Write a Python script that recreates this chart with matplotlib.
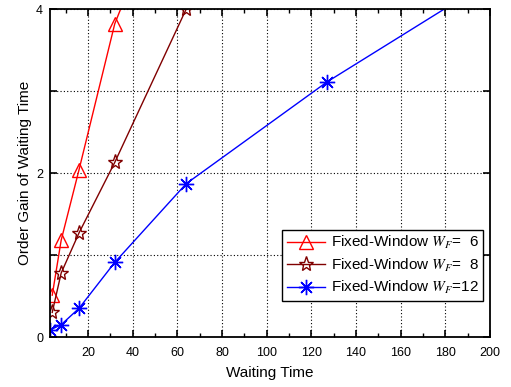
import matplotlib
matplotlib.use("Agg")
import matplotlib.pyplot as plt
from matplotlib.ticker import MultipleLocator, FixedLocator

plt.rcParams['font.family'] = ['Liberation Sans', 'DejaVu Sans']
plt.rcParams['mathtext.fontset'] = 'stix'

# Data
x_w6 = [4, 8, 16, 32, 64]
y_w6 = [0.51, 1.18, 2.04, 3.82, 6.0]
x_w8 = [4, 8, 16, 32, 64, 128]
y_w8 = [0.30, 0.78, 1.27, 2.13, 4.0, 7.5]
x_w12 = [3, 8, 16, 32, 64, 127, 254]
y_w12 = [0.085, 0.15, 0.35, 0.91, 1.87, 3.11, 5.26]

labels = [r"Fixed-Window $W_{F}$=  6", r"Fixed-Window $W_{F}$=  8", r"Fixed-Window $W_{F}$=12"]
x_ticks = [20, 40, 60, 80, 100, 120, 140, 160, 180, 200]
y_ticks = [0, 1, 2, 3, 4]
y_ticklabels = ["0", "", "2", "", "4"]

fig = plt.figure(figsize=(5.11, 3.87), dpi=100)
ax = fig.add_axes([50/511, 1-337/387, 440/511, 328/387])

ax.plot(x_w6, y_w6, color='#ff0000', lw=1.0, marker='^', ms=10, mfc='none', mec='#ff0000', mew=1.0, label=labels[0])
ax.plot(x_w8, y_w8, color='#800000', lw=1.0, marker='*', ms=11, mfc='none', mec='#800000', mew=1.0, label=labels[1])
ax.plot(x_w12, y_w12, color='#0000ff', lw=1.0, marker=(8, 2, 0), ms=11, mfc='none', mec='#0000ff', mew=1.0, label=labels[2])

ax.set_xlim(3, 200)
ax.set_ylim(0, 4)
ax.xaxis.set_major_locator(FixedLocator(x_ticks))
ax.xaxis.set_minor_locator(MultipleLocator(10))
ax.yaxis.set_major_locator(FixedLocator(y_ticks))
ax.set_yticklabels(y_ticklabels)

ax.tick_params(which='both', direction='in', top=True, right=True, labelsize=9)
ax.tick_params(which='major', length=5, width=1.2)
ax.tick_params(which='minor', length=3, width=1.0)
ax.tick_params(axis='x', which='major', pad=7)
ax.tick_params(axis='y', which='major', pad=5)
for s in ax.spines.values():
    s.set_linewidth(1.3)

ax.grid(True, which='major', color='black', linestyle=(0, (1, 2)), linewidth=0.8)

ax.set_xlabel("Waiting Time", fontsize=11, labelpad=5)
ax.set_ylabel("Order Gain of Waiting Time", fontsize=11, labelpad=3)

leg = ax.legend(loc='lower right', bbox_to_anchor=(0.985, 0.11), fontsize=11,
                frameon=True, fancybox=False, framealpha=1, edgecolor='black',
                handlelength=2.5, borderpad=0.3, labelspacing=0.35, handletextpad=0.4,
                borderaxespad=0)
leg.get_frame().set_linewidth(1.0)

fig.savefig("out.png", dpi=100)
